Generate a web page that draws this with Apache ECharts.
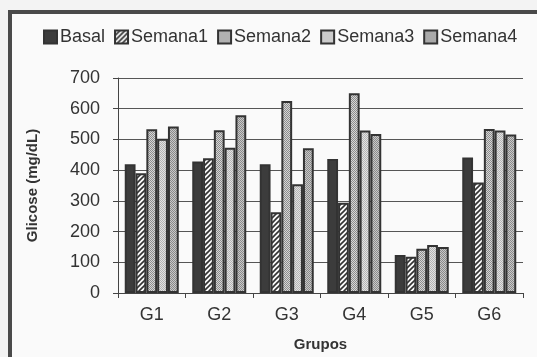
<!DOCTYPE html>
<html>
<head>
<meta charset="utf-8">
<script src="https://cdn.jsdelivr.net/npm/echarts@6/dist/echarts.min.js"></script>
<style>
  html, body {margin: 0; padding: 0; background: #f3f3f3;}
  #chart {width: 537px; height: 357px;}
</style>
</head>
<body>
<div id="chart"></div>
<script>
const grupos = ['G1', 'G2', 'G3', 'G4', 'G5', 'G6'];
const basal = [419, 428, 419, 436, 124, 441];
const semana1 = [390, 439, 263, 294, 118, 360];
const semana2 = [533, 530, 625, 650, 144, 534];
const semana3 = [502, 473, 354, 529, 156, 529];
const semana4 = [542, 579, 471, 518, 150, 516];
const yTicks = [0, 100, 200, 300, 400, 500, 600, 700];

// little canvas textures to imitate the printed fills
function hatch() {
  const c = document.createElement('canvas');
  c.width = 5; c.height = 5;
  const g = c.getContext('2d');
  g.fillStyle = '#fafafa';
  g.fillRect(0, 0, 5, 5);
  g.strokeStyle = '#333';
  g.lineWidth = 1.6;
  g.beginPath();
  g.moveTo(-1, 6); g.lineTo(6, -1);
  g.moveTo(-1, 1); g.lineTo(1, -1);
  g.moveTo(4, 6); g.lineTo(6, 4);
  g.stroke();
  return {image: c, repeat: 'repeat'};
}

function stipple(dark, light) {
  const c = document.createElement('canvas');
  c.width = 2; c.height = 2;
  const g = c.getContext('2d');
  g.fillStyle = light;
  g.fillRect(0, 0, 2, 2);
  g.fillStyle = dark;
  g.fillRect(0, 0, 1, 1);
  g.fillRect(1, 1, 1, 1);
  return {image: c, repeat: 'repeat'};
}

const chart = echarts.init(document.getElementById('chart'));
const font = 'Liberation Sans, Arial, sans-serif';

chart.setOption({
  backgroundColor: '#f3f3f3',
  animation: false,
  textStyle: {fontFamily: font},
  graphic: [{
    type: 'rect',
    z: -1,
    shape: {x: 10, y: 12, width: 600, height: 400},
    style: {fill: '#fafafa', stroke: '#4a4a4a', lineWidth: 4}
  }],
  legend: {
    top: 28,
    left: 43,
    padding: 0,
    icon: 'rect',
    itemWidth: 13,
    itemHeight: 13,
    itemGap: 9,
    textStyle: {fontSize: 18, color: '#333', padding: [0, 0, 0, -2]},
    data: ['Basal', 'Semana1', 'Semana2', 'Semana3', 'Semana4']
  },
  grid: {left: 118, right: 14, top: 78, bottom: 64},
  xAxis: {
    type: 'category',
    data: grupos,
    name: 'Grupos',
    nameLocation: 'middle',
    nameGap: 44,
    nameTextStyle: {fontSize: 15, fontWeight: 'bold', color: '#333'},
    axisLine: {lineStyle: {color: '#444', width: 1}},
    axisTick: {show: true, length: 5, lineStyle: {color: '#444'}},
    axisLabel: {fontSize: 18, color: '#333', margin: 13}
  },
  yAxis: {
    type: 'value',
    min: 0,
    max: 700,
    interval: 100,
    name: 'Glicose (mg/dL)',
    nameLocation: 'middle',
    nameGap: 78,
    nameTextStyle: {fontSize: 15, fontWeight: 'bold', color: '#333'},
    axisLine: {show: true, lineStyle: {color: '#444', width: 1}},
    axisTick: {show: true, length: 5, lineStyle: {color: '#444'}},
    axisLabel: {
      fontSize: 18, color: '#333', margin: 18,
      formatter: (v) => yTicks.includes(v) ? String(v) : ''
    },
    splitLine: {lineStyle: {color: '#555', width: 1}}
  },
  series: [
    {name: 'Basal', data: basal, color: '#3c3c3c'},
    {name: 'Semana1', data: semana1, color: hatch()},
    {name: 'Semana2', data: semana2, color: stipple('#8c8c8c', '#d6d6d6')},
    {name: 'Semana3', data: semana3, color: stipple('#b4b4b4', '#e2e2e2')},
    {name: 'Semana4', data: semana4, color: stipple('#8a8a8a', '#c8c8c8')}
  ].map(s => ({
    ...s,
    type: 'bar',
    barGap: '0%',
    barCategoryGap: '20%',
    itemStyle: {borderColor: '#333', borderWidth: 2}
  }))
});
</script>
</body>
</html>
